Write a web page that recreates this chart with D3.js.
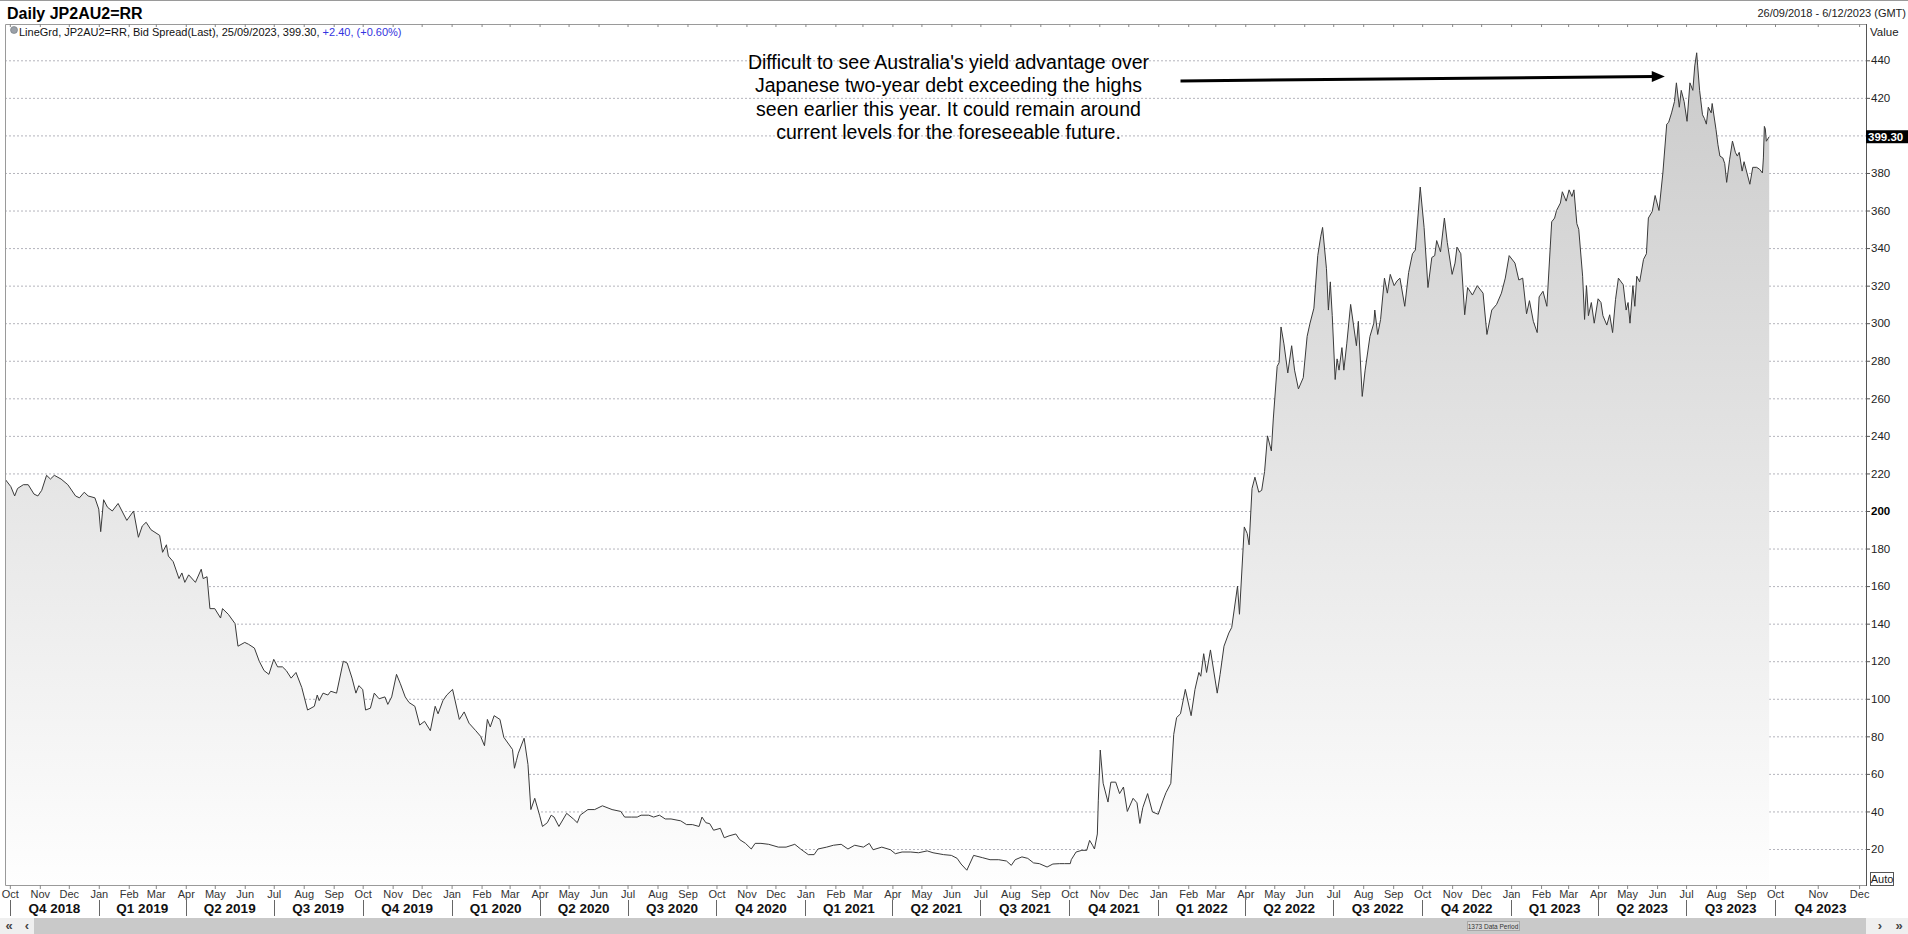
<!DOCTYPE html>
<html>
<head>
<meta charset="utf-8">
<script src="https://cdn.jsdelivr.net/npm/d3@7"></script>
<style>
  html, body { margin: 0; padding: 0; background: #fff; }
  svg { display: block; font-family: 'Liberation Sans', Arial, sans-serif; }
</style>
</head>
<body>
<div id="chart"></div>
<script>
// JP2AU2=RR bid spread (basis points)
const spread2018 = [
  ['2018-09-26', 217], ['2018-10-02', 213], ['2018-10-06', 208], ['2018-10-09', 212], ['2018-10-15', 214],
  ['2018-10-20', 214], ['2018-10-26', 209], ['2018-10-30', 208], ['2018-11-03', 211], ['2018-11-08', 219],
  ['2018-11-12', 217], ['2018-11-16', 219], ['2018-11-23', 217], ['2018-11-30', 214], ['2018-12-08', 208],
  ['2018-12-12', 207], ['2018-12-17', 210], ['2018-12-21', 208], ['2018-12-28', 207]
];

const spread2019 = [
  ['2019-01-01', 201], ['2019-01-03', 189], ['2019-01-06', 206], ['2019-01-10', 202], ['2019-01-15', 200],
  ['2019-01-21', 204], ['2019-01-30', 195], ['2019-02-06', 200], ['2019-02-11', 186], ['2019-02-15', 192],
  ['2019-02-19', 194], ['2019-02-24', 190], ['2019-03-05', 187], ['2019-03-08', 178], ['2019-03-12', 182],
  ['2019-03-14', 176], ['2019-03-19', 173], ['2019-03-25', 164], ['2019-03-28', 167], ['2019-03-31', 162],
  ['2019-04-04', 166], ['2019-04-11', 162], ['2019-04-17', 169], ['2019-04-19', 164], ['2019-04-23', 165],
  ['2019-04-26', 148], ['2019-05-01', 148], ['2019-05-07', 143], ['2019-05-09', 148], ['2019-05-15', 145],
  ['2019-05-22', 140], ['2019-05-25', 128], ['2019-06-01', 130], ['2019-06-05', 129], ['2019-06-11', 127],
  ['2019-06-16', 120], ['2019-06-21', 115], ['2019-06-26', 113], ['2019-07-01', 121], ['2019-07-05', 117],
  ['2019-07-10', 117], ['2019-07-14', 115], ['2019-07-19', 111], ['2019-07-24', 114], ['2019-07-30', 106],
  ['2019-08-05', 94], ['2019-08-12', 96], ['2019-08-15', 102], ['2019-08-17', 99], ['2019-08-21', 103],
  ['2019-08-26', 102], ['2019-08-29', 104], ['2019-09-04', 103], ['2019-09-11', 120], ['2019-09-15', 119],
  ['2019-09-20', 111], ['2019-09-24', 103], ['2019-09-27', 107], ['2019-10-01', 105], ['2019-10-04', 94],
  ['2019-10-09', 95], ['2019-10-13', 103], ['2019-10-18', 100], ['2019-10-24', 101], ['2019-10-27', 97],
  ['2019-10-31', 101], ['2019-11-05', 113], ['2019-11-09', 108], ['2019-11-14', 101], ['2019-11-18', 98],
  ['2019-11-24', 96], ['2019-11-29', 86], ['2019-12-04', 88], ['2019-12-10', 83], ['2019-12-15', 96],
  ['2019-12-18', 92], ['2019-12-23', 99], ['2019-12-27', 102]
];

const spread2020 = [
  ['2020-01-02', 105], ['2020-01-09', 89], ['2020-01-14', 93], ['2020-01-19', 87], ['2020-01-26', 83],
  ['2020-01-31', 80], ['2020-02-04', 75], ['2020-02-07', 89], ['2020-02-10', 85], ['2020-02-14', 91],
  ['2020-02-20', 89], ['2020-02-24', 79.5], ['2020-03-04', 73], ['2020-03-06', 63], ['2020-03-08', 67],
  ['2020-03-10', 71], ['2020-03-16', 79], ['2020-03-20', 65], ['2020-03-23', 41], ['2020-03-27', 47],
  ['2020-04-01', 38], ['2020-04-04', 32], ['2020-04-09', 34], ['2020-04-13', 38], ['2020-04-16', 37],
  ['2020-04-21', 32], ['2020-04-29', 39], ['2020-05-06', 36], ['2020-05-10', 34], ['2020-05-13', 38],
  ['2020-05-21', 41], ['2020-05-28', 41], ['2020-06-05', 43], ['2020-06-15', 41], ['2020-06-24', 40],
  ['2020-06-28', 37], ['2020-07-05', 37], ['2020-07-11', 37], ['2020-07-15', 38], ['2020-07-23', 38],
  ['2020-07-28', 37], ['2020-08-03', 38], ['2020-08-09', 36], ['2020-08-15', 36], ['2020-08-25', 35],
  ['2020-08-31', 33], ['2020-09-06', 33], ['2020-09-13', 32], ['2020-09-16', 37], ['2020-09-20', 34],
  ['2020-09-24', 33.5], ['2020-09-28', 30], ['2020-10-05', 31], ['2020-10-09', 26], ['2020-10-14', 27],
  ['2020-10-21', 28], ['2020-10-25', 25], ['2020-10-31', 23], ['2020-11-06', 20], ['2020-11-10', 23],
  ['2020-11-16', 23], ['2020-11-24', 22.5], ['2020-12-04', 21], ['2020-12-12', 21], ['2020-12-21', 22.5],
  ['2020-12-27', 20]
];

const spread2021 = [
  ['2021-01-04', 17], ['2021-01-10', 17], ['2021-01-14', 20], ['2021-01-23', 21], ['2021-01-30', 22],
  ['2021-02-07', 22.5], ['2021-02-14', 20], ['2021-02-21', 22], ['2021-03-02', 21], ['2021-03-08', 23],
  ['2021-03-12', 19.6], ['2021-03-21', 21], ['2021-03-30', 19.6], ['2021-04-04', 17.5], ['2021-04-11', 18.4],
  ['2021-04-20', 18.4], ['2021-04-28', 18], ['2021-05-07', 19], ['2021-05-13', 18], ['2021-05-24', 17],
  ['2021-06-01', 16.6], ['2021-06-07', 15], ['2021-06-11', 12], ['2021-06-17', 8.7], ['2021-06-24', 16.6],
  ['2021-07-03', 15.4], ['2021-07-11', 14.3], ['2021-07-20', 14.3], ['2021-07-28', 13.6], ['2021-08-02', 11.3],
  ['2021-08-06', 14.3], ['2021-08-13', 15.8], ['2021-08-19', 15], ['2021-08-25', 12.6], ['2021-08-31', 12.2],
  ['2021-09-08', 10.4], ['2021-09-14', 12], ['2021-09-21', 12.2], ['2021-09-26', 12.2], ['2021-10-02', 12.2],
  ['2021-10-03', 14.3], ['2021-10-08', 18.4], ['2021-10-14', 19.3], ['2021-10-19', 19.3], ['2021-10-22', 24.6],
  ['2021-10-25', 22], ['2021-10-27', 20], ['2021-10-30', 28], ['2021-10-31', 46], ['2021-11-02', 72.7],
  ['2021-11-05', 55], ['2021-11-10', 45], ['2021-11-13', 55.6], ['2021-11-18', 55.6], ['2021-11-22', 49.5],
  ['2021-11-26', 53], ['2021-11-30', 40], ['2021-12-06', 47], ['2021-12-10', 44.6], ['2021-12-13', 33.6],
  ['2021-12-16', 42], ['2021-12-21', 49.5], ['2021-12-26', 39.7]
];

const spread2022 = [
  ['2022-01-01', 38.5], ['2022-01-06', 46], ['2022-01-09', 50], ['2022-01-14', 55], ['2022-01-17', 81],
  ['2022-01-20', 90], ['2022-01-24', 92], ['2022-01-29', 105], ['2022-02-04', 91], ['2022-02-08', 105],
  ['2022-02-12', 114], ['2022-02-14', 112], ['2022-02-17', 124], ['2022-02-20', 114], ['2022-02-24', 126],
  ['2022-03-03', 103], ['2022-03-06', 113], ['2022-03-10', 128], ['2022-03-15', 135], ['2022-03-18', 138],
  ['2022-03-24', 160], ['2022-03-26', 145], ['2022-03-31', 191.5], ['2022-04-03', 188], ['2022-04-05', 182],
  ['2022-04-08', 212], ['2022-04-11', 218], ['2022-04-15', 210], ['2022-04-18', 211], ['2022-04-21', 221],
  ['2022-04-24', 240], ['2022-04-28', 232], ['2022-04-30', 249], ['2022-05-04', 277], ['2022-05-06', 279],
  ['2022-05-08', 298], ['2022-05-11', 289], ['2022-05-15', 273.5], ['2022-05-19', 288], ['2022-05-22', 275],
  ['2022-05-26', 265], ['2022-05-31', 271], ['2022-06-04', 293], ['2022-06-07', 300], ['2022-06-11', 308],
  ['2022-06-15', 336], ['2022-06-18', 346], ['2022-06-20', 351], ['2022-06-24', 329], ['2022-06-26', 307],
  ['2022-06-28', 322], ['2022-06-30', 304], ['2022-07-03', 270], ['2022-07-05', 281], ['2022-07-07', 275],
  ['2022-07-10', 287], ['2022-07-12', 275], ['2022-07-15', 289], ['2022-07-19', 310], ['2022-07-22', 299],
  ['2022-07-25', 288], ['2022-07-27', 301], ['2022-07-31', 261], ['2022-08-03', 275], ['2022-08-08', 293],
  ['2022-08-12', 300], ['2022-08-13', 307], ['2022-08-16', 294], ['2022-08-19', 302], ['2022-08-23', 324],
  ['2022-08-26', 316], ['2022-08-29', 326], ['2022-09-02', 320], ['2022-09-05', 322.5], ['2022-09-08', 324],
  ['2022-09-13', 309], ['2022-09-17', 327], ['2022-09-21', 337], ['2022-09-24', 339], ['2022-09-29', 372.5],
  ['2022-10-03', 351], ['2022-10-07', 319], ['2022-10-11', 335], ['2022-10-14', 336], ['2022-10-16', 344],
  ['2022-10-20', 338], ['2022-10-24', 356], ['2022-10-27', 343], ['2022-11-01', 326], ['2022-11-04', 332],
  ['2022-11-06', 340.5], ['2022-11-10', 337], ['2022-11-14', 304.5], ['2022-11-17', 319], ['2022-11-22', 315],
  ['2022-11-27', 320], ['2022-12-03', 316], ['2022-12-07', 294], ['2022-12-12', 307], ['2022-12-17', 310],
  ['2022-12-22', 316], ['2022-12-26', 324], ['2022-12-30', 336]
];

const spread2023 = [
  ['2023-01-05', 332], ['2023-01-09', 323], ['2023-01-13', 324], ['2023-01-17', 305], ['2023-01-20', 312],
  ['2023-01-24', 301], ['2023-01-28', 295], ['2023-01-30', 314], ['2023-02-03', 317], ['2023-02-07', 309],
  ['2023-02-12', 354], ['2023-02-15', 356], ['2023-02-17', 360], ['2023-02-21', 364], ['2023-02-23', 370],
  ['2023-02-27', 365], ['2023-03-02', 371], ['2023-03-05', 367.5], ['2023-03-07', 371], ['2023-03-10', 353],
  ['2023-03-12', 350], ['2023-03-16', 325], ['2023-03-18', 302], ['2023-03-20', 320], ['2023-03-22', 304],
  ['2023-03-25', 311], ['2023-03-28', 300], ['2023-04-01', 313], ['2023-04-04', 311], ['2023-04-06', 304],
  ['2023-04-10', 299], ['2023-04-13', 304.5], ['2023-04-16', 295], ['2023-04-19', 312.5], ['2023-04-22', 324],
  ['2023-04-27', 320.5], ['2023-04-30', 307], ['2023-05-02', 311], ['2023-05-04', 300], ['2023-05-07', 320],
  ['2023-05-09', 309], ['2023-05-11', 325], ['2023-05-14', 322], ['2023-05-18', 334], ['2023-05-21', 337],
  ['2023-05-23', 356], ['2023-05-27', 359.5], ['2023-05-30', 368], ['2023-06-03', 360], ['2023-06-07', 380],
  ['2023-06-11', 406], ['2023-06-13', 407], ['2023-06-16', 412], ['2023-06-19', 418], ['2023-06-21', 428],
  ['2023-06-24', 415], ['2023-06-26', 424], ['2023-06-29', 418], ['2023-07-02', 407.5], ['2023-07-05', 428],
  ['2023-07-08', 424], ['2023-07-10', 437], ['2023-07-12', 444], ['2023-07-13', 437], ['2023-07-15', 424],
  ['2023-07-18', 411], ['2023-07-20', 409], ['2023-07-22', 406], ['2023-07-24', 415], ['2023-07-27', 412],
  ['2023-07-28', 417], ['2023-08-01', 403], ['2023-08-03', 395], ['2023-08-05', 389], ['2023-08-08', 388],
  ['2023-08-10', 385], ['2023-08-12', 375], ['2023-08-15', 387], ['2023-08-18', 397], ['2023-08-21', 391],
  ['2023-08-23', 389], ['2023-08-25', 391], ['2023-08-28', 381], ['2023-08-30', 386], ['2023-09-02', 380],
  ['2023-09-05', 374], ['2023-09-08', 383], ['2023-09-12', 383], ['2023-09-15', 382], ['2023-09-18', 380],
  ['2023-09-19', 388], ['2023-09-20', 404.8], ['2023-09-21', 403.4], ['2023-09-22', 396.9], ['2023-09-25', 399.3]
];

const yTicks = d3.range(20, 441, 20);
const boldTick = 200;
const lastValue = 399.30;

const title = 'Daily JP2AU2=RR';
const legendText = 'LineGrd, JP2AU2=RR, Bid Spread(Last), 25/09/2023, 399.30, ';
const legendChange = '+2.40, (+0.60%)';
const rangeText = '26/09/2018 - 6/12/2023 (GMT)';

const noteLines = [
  'Difficult to see Australia\'s yield advantage over',
  'Japanese two-year debt exceeding the highs',
  'seen earlier this year. It could remain around',
  'current levels for the foreseeable future.'
];
const noteAt = ['2021-05-29', 435.4];
const arrowFrom = ['2022-01-24', 429];
const arrowTo = ['2023-06-09', 431.4];

const width = 1908;
const height = 934;
const plot = {left: 5, right: 1866, top: 24, bottom: 885};

const parse = d3.timeParse('%Y-%m-%d');
const data = [...spread2018, ...spread2019, ...spread2020, ...spread2021, ...spread2022, ...spread2023]
  .map(([d, v]) => ({date: parse(d), value: v}));

// Eikon squeezes the data span and gives the empty future months a wider step
const x = d3.scaleTime()
  .domain([parse('2018-09-26'), parse('2023-10-01'), parse('2023-12-06')])
  .range([plot.left, 1775, plot.right]);

const y = d3.scaleLinear()
  .domain([20, 440])
  .range([849, 60.3]);

const svg = d3.select('#chart')
  .append('svg')
  .attr('width', width)
  .attr('height', height)
  .attr('viewBox', [0, 0, width, height]);

const defs = svg.append('defs');
const grad = defs.append('linearGradient')
  .attr('id', 'fillGrad')
  .attr('gradientUnits', 'userSpaceOnUse')
  .attr('x1', 0).attr('x2', 0)
  .attr('y1', plot.top).attr('y2', plot.bottom);
grad.append('stop').attr('offset', 0).attr('stop-color', '#c9c9c9');
grad.append('stop').attr('offset', 1).attr('stop-color', '#fefefe');

defs.append('clipPath')
  .attr('id', 'plotClip')
  .append('rect')
  .attr('x', plot.left).attr('y', plot.top)
  .attr('width', plot.right - plot.left).attr('height', plot.bottom - plot.top);

// top window edge
svg.append('line')
  .attr('x1', 0).attr('x2', width).attr('y1', 0.5).attr('y2', 0.5)
  .attr('stroke', '#9a9a9a');

// Header texts
svg.append('text')
  .attr('x', 7).attr('y', 19)
  .attr('font-size', 16).attr('font-weight', 'bold')
  .text(title);

svg.append('text')
  .attr('x', width - 2).attr('y', 17)
  .attr('text-anchor', 'end')
  .attr('font-size', 11).attr('fill', '#222')
  .text(rangeText);

svg.append('circle')
  .attr('cx', 14).attr('cy', 30).attr('r', 3.5)
  .attr('fill', '#9aa0a8').attr('stroke', '#6d737b').attr('stroke-width', 0.6);

const legend = svg.append('text')
  .attr('x', 19).attr('y', 36)
  .attr('font-size', 11).attr('fill', '#111');
legend.append('tspan').text(legendText);
legend.append('tspan').attr('fill', '#3333e0').text(legendChange);

// Y axis with dotted grid; the last-value box hides the label it sits on
const lastY = y(lastValue);
svg.append('g')
  .attr('transform', `translate(${plot.right},0)`)
  .call(d3.axisRight(y)
    .tickValues(yTicks)
    .tickSize(4)
    .tickPadding(1)
    .tickFormat(d3.format('d')))
  .call(g => g.select('.domain').remove())
  .call(g => g.selectAll('.tick line').attr('stroke', '#555'))
  .call(g => g.selectAll('.tick line').clone().lower()
    .attr('x1', -(plot.right - plot.left))
    .attr('x2', 0)
    .attr('stroke', '#b4b4bc')
    .attr('stroke-dasharray', '2,2'))
  .call(g => g.selectAll('.tick text')
    .filter(d => Math.abs(y(d) - lastY) < 12)
    .remove())
  .call(g => g.selectAll('.tick text')
    .attr('font-family', "'Liberation Sans', Arial, sans-serif")
    .attr('font-size', 11.5)
    .attr('fill', '#222')
    .filter(d => d === boldTick)
    .attr('font-weight', 'bold')
    .attr('fill', '#000'));

svg.append('text')
  .attr('x', plot.right + 4).attr('y', 36)
  .attr('font-size', 11.5).attr('fill', '#222')
  .text('Value');

// Area and line
const area = d3.area()
  .x(d => x(d.date))
  .y0(plot.bottom)
  .y1(d => y(d.value));

const line = d3.line()
  .x(d => x(d.date))
  .y(d => y(d.value));

const series = svg.append('g').attr('clip-path', 'url(#plotClip)');
series.append('path')
  .attr('fill', 'url(#fillGrad)')
  .attr('d', area(data));
series.append('path')
  .attr('fill', 'none')
  .attr('stroke', '#3a3a3a')
  .attr('stroke-width', 1)
  .attr('stroke-linejoin', 'round')
  .attr('d', line(data));

// Plot frame
svg.append('path')
  .attr('fill', 'none')
  .attr('stroke', '#9a9a9a')
  .attr('d', `M${plot.right},${plot.top + 0.5}H${plot.left + 0.5}V${plot.bottom + 0.5}H${plot.right}`);
svg.append('line')
  .attr('x1', plot.right + 0.5).attr('x2', plot.right + 0.5)
  .attr('y1', plot.top).attr('y2', plot.bottom + 1)
  .attr('stroke', '#555');

// Month ticks along the top border
const months = d3.timeMonth.range(parse('2018-10-01'), parse('2023-12-02'));
svg.append('g')
  .selectAll('line')
  .data(months)
  .join('line')
  .attr('x1', d => x(d) + 0.5).attr('x2', d => x(d) + 0.5)
  .attr('y1', plot.top).attr('y2', plot.top + 3)
  .attr('stroke', '#888');

// Month axis
svg.append('g')
  .attr('transform', `translate(0,${plot.bottom})`)
  .call(d3.axisBottom(x)
    .tickValues(months)
    .tickSize(4)
    .tickPadding(1)
    .tickFormat(d3.timeFormat('%b')))
  .call(g => g.select('.domain').remove())
  .call(g => g.selectAll('.tick line').attr('stroke', '#888'))
  .call(g => g.selectAll('.tick text')
    .attr('font-family', "'Liberation Sans', Arial, sans-serif")
    .attr('font-size', 11)
    .attr('fill', '#333'));

// Quarter row
const quarters = d3.timeMonth.every(3).range(parse('2018-10-01'), parse('2023-12-02'));
const qRow = svg.append('g');
qRow.selectAll('line')
  .data(quarters)
  .join('line')
  .attr('x1', d => Math.round(x(d)) + 0.5).attr('x2', d => Math.round(x(d)) + 0.5)
  .attr('y1', 900).attr('y2', 916)
  .attr('stroke', '#666');
qRow.selectAll('text')
  .data(quarters)
  .join('text')
  .attr('x', d => (x(d) + Math.min(x(d3.timeMonth.offset(d, 3)), plot.right)) / 2)
  .attr('y', 913)
  .attr('text-anchor', 'middle')
  .attr('font-size', 13.5)
  .attr('font-weight', 'bold')
  .attr('fill', '#111')
  .text(d => `Q${Math.floor(d.getMonth() / 3) + 1} ${d.getFullYear()}`);

// Scroll bar
const bar = svg.append('g');
bar.append('rect')
  .attr('x', 0).attr('y', 918).attr('width', width).attr('height', 16)
  .attr('fill', '#c9c9c9');
bar.append('rect')
  .attr('x', 0).attr('y', 918).attr('width', 34).attr('height', 16)
  .attr('fill', '#efefef');
bar.append('rect')
  .attr('x', plot.right).attr('y', 918).attr('width', width - plot.right).attr('height', 16)
  .attr('fill', '#efefef');
bar.selectAll('text.btn')
  .data([[9, '\u00ab'], [27, '\u2039'], [1880, '\u203a'], [1899, '\u00bb']])
  .join('text')
  .attr('class', 'btn')
  .attr('x', d => d[0]).attr('y', 930)
  .attr('text-anchor', 'middle')
  .attr('font-size', 13).attr('font-weight', 'bold').attr('fill', '#444')
  .text(d => d[1]);
bar.append('rect')
  .attr('x', 1467.5).attr('y', 921.5).attr('width', 52).attr('height', 9)
  .attr('fill', '#d6d6d6').attr('stroke', '#a8a8a8');
bar.append('text')
  .attr('x', 1493).attr('y', 928.5)
  .attr('text-anchor', 'middle')
  .attr('font-size', 6.5).attr('fill', '#333')
  .text('1373 Data Period');

// "Auto" box
svg.append('rect')
  .attr('x', 1870.5).attr('y', 872.5).attr('width', 23).attr('height', 13)
  .attr('fill', '#fff').attr('stroke', '#555');
svg.append('text')
  .attr('x', 1882).attr('y', 883)
  .attr('text-anchor', 'middle')
  .attr('font-size', 11).attr('fill', '#222')
  .text('Auto');

// Last value marker on the axis
svg.append('rect')
  .attr('x', plot.right).attr('y', lastY - 6.5)
  .attr('width', width - plot.right).attr('height', 13)
  .attr('fill', '#000');
svg.append('text')
  .attr('x', plot.right + 2).attr('y', lastY)
  .attr('dy', '0.36em')
  .attr('font-size', 11.5).attr('font-weight', 'bold').attr('fill', '#fff')
  .text(lastValue.toFixed(2));

// Annotation
svg.append('text')
  .attr('x', x(parse(noteAt[0])))
  .attr('y', y(noteAt[1]))
  .attr('text-anchor', 'middle')
  .attr('font-size', 19.5)
  .attr('fill', '#000')
  .selectAll('tspan')
  .data(noteLines)
  .join('tspan')
  .attr('x', x(parse(noteAt[0])))
  .attr('dy', (d, i) => i === 0 ? 0 : '1.2em')
  .text(d => d);

const p0 = [x(parse(arrowFrom[0])), y(arrowFrom[1])];
const p1 = [x(parse(arrowTo[0])), y(arrowTo[1])];
const ang = Math.atan2(p1[1] - p0[1], p1[0] - p0[0]);
const headLen = 13;
const headHalf = 5.5;
const base = [p1[0] - headLen * Math.cos(ang), p1[1] - headLen * Math.sin(ang)];

svg.append('line')
  .attr('x1', p0[0]).attr('y1', p0[1])
  .attr('x2', base[0] + 2 * Math.cos(ang)).attr('y2', base[1] + 2 * Math.sin(ang))
  .attr('stroke', '#000')
  .attr('stroke-width', 3);

svg.append('path')
  .attr('fill', '#000')
  .attr('d', `M${p1[0]},${p1[1]}
    L${base[0] + headHalf * Math.sin(ang)},${base[1] - headHalf * Math.cos(ang)}
    L${base[0] - headHalf * Math.sin(ang)},${base[1] + headHalf * Math.cos(ang)}Z`);
</script>
</body>
</html>
